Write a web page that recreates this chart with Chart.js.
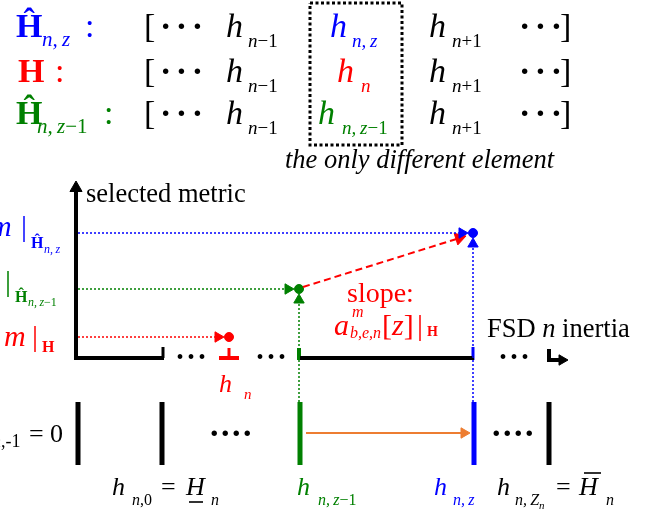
<!DOCTYPE html>
<html>
<head>
<meta charset="utf-8">
<script src="https://cdn.jsdelivr.net/npm/chart.js@4.4.1/dist/chart.umd.min.js"></script>
<style>
  html, body { margin: 0; padding: 0; background: #fff; }
  #marco { width: 648px; height: 513px; }
</style>
</head>
<body>
<div id="marco"><canvas id="lienzo"></canvas></div>
<script>
const AZUL = '#0000ff', ROJO = '#ff0000', VERDE = '#008000', NEGRO = '#000000', NARANJA = '#ed7d31';
const SERIF = '"Liberation Serif", "Times New Roman", serif';

//* datos del diagrama (unidades del lienzo)
const hEje = [229, 299, 473];            // h_n, h_{n,z-1}, h_{n,z}
const metrica = [337, 289, 233];         // m|H, m|Ĥ_{n,z-1}, m|Ĥ_{n,z}
const coloresMetrica = [ROJO, VERDE, AZUL];
const ejeOrigen = [76, 358];
const ejeTope = 190;
const tramosEje = [[74, 164], [219, 239], [300, 474]];
const hRejilla = [78, 162, 300, 474, 549];
const coloresRejilla = [NEGRO, NEGRO, VERDE, AZUL, NEGRO];
const rejillaY = [402, 465];
const flechaNaranja = [306, 470, 433];
const cajaX = [310, 402];
const cajaY = [3, 145];

function linea(puntos, color, ancho, guiones) {
    return {
        data: puntos.map(([x, y]) => ({ x, y })),
        showLine: true,
        borderColor: color,
        borderWidth: ancho,
        borderDash: guiones || [],
        pointRadius: 0,
        pointHoverRadius: 0,
        fill: false,
        tension: 0,
        clip: false
    };
}

//* punta de flecha: triangulo con su vertice en "punta"
function flecha(punta, angulo, r, color) {
    const rad = angulo * Math.PI / 180;
    return {
        data: [{ x: punta[0] - r * Math.cos(rad), y: punta[1] - r * Math.sin(rad) }],
        showLine: false,
        pointStyle: 'triangle',
        pointRadius: r,
        pointHoverRadius: r,
        pointRotation: angulo + 90,
        pointBackgroundColor: color,
        pointBorderColor: color,
        pointBorderWidth: 1,
        clip: false
    };
}

function punto(x, y, r, color) {
    return {
        data: [{ x, y }],
        showLine: false,
        pointStyle: 'circle',
        pointRadius: r,
        pointHoverRadius: r,
        pointBackgroundColor: color,
        pointBorderColor: color,
        clip: false
    };
}

const conjuntos = [];

//* caja punteada
conjuntos.push(linea([[cajaX[0], cajaY[0]], [cajaX[1], cajaY[0]], [cajaX[1], cajaY[1]], [cajaX[0], cajaY[1]], [cajaX[0], cajaY[0]]], NEGRO, 3, [3, 2.5]));

//* lineas punteadas horizontales hacia cada punto
metrica.forEach((m, i) => {
    conjuntos.push(linea([[ejeOrigen[0] + 2, m], [hEje[i] - 11, m]], coloresMetrica[i], 1.5, [2, 2]));
    conjuntos.push(flecha([hEje[i] - 5, m], 0, 6, coloresMetrica[i]));
});
//* lineas punteadas verticales desde la rejilla
[1, 2].forEach(i => {
    conjuntos.push(linea([[hEje[i], rejillaY[0]], [hEje[i], metrica[i] + 11]], coloresMetrica[i], 1.5, [2, 2]));
    conjuntos.push(flecha([hEje[i], metrica[i] + 5], -90, 6, coloresMetrica[i]));
});

//* ejes
conjuntos.push(linea([[ejeOrigen[0], ejeOrigen[1] + 2], [ejeOrigen[0], ejeTope]], NEGRO, 4));
conjuntos.push(flecha([ejeOrigen[0], ejeTope - 9], -90, 7, NEGRO));
tramosEje.forEach((t, i) => {
    conjuntos.push(linea([[t[0], ejeOrigen[1]], [t[1], ejeOrigen[1]]], i === 1 ? ROJO : NEGRO, 4));
});
conjuntos.push(linea([[163, ejeOrigen[1]], [163, ejeOrigen[1] - 11]], NEGRO, 3));
conjuntos.push(linea([[hEje[0], ejeOrigen[1]], [hEje[0], ejeOrigen[1] - 10]], ROJO, 3));
conjuntos.push(linea([[hEje[1], ejeOrigen[1] + 2], [hEje[1], ejeOrigen[1] - 10]], VERDE, 4));
conjuntos.push(linea([[hEje[2], ejeOrigen[1] + 2], [hEje[2], ejeOrigen[1] - 11]], AZUL, 3));
//* simbolo de continuacion
conjuntos.push(linea([[549, 349], [549, 360], [561, 360]], NEGRO, 4));
conjuntos.push(flecha([568, 360], 0, 6, NEGRO));

//* pendiente
const ini = [hEje[1] + 4, metrica[1] - 2];
const fin = [hEje[2] - 7, metrica[2] + 3];
const angPend = Math.atan2(fin[1] - ini[1], fin[0] - ini[0]) * 180 / Math.PI;
const radPend = angPend * Math.PI / 180;
conjuntos.push(linea([ini, [fin[0] - 7 * Math.cos(radPend), fin[1] - 7 * Math.sin(radPend)]], ROJO, 2, [7, 4]));
conjuntos.push(flecha(fin, angPend, 7, ROJO));

//* puntos de la metrica
metrica.forEach((m, i) => conjuntos.push(punto(hEje[i], m, 4.5, coloresMetrica[i])));

//* rejilla inferior
hRejilla.forEach((h, i) => conjuntos.push(linea([[h, rejillaY[0]], [h, rejillaY[1]]], coloresRejilla[i], 5)));
conjuntos.push(linea([[flechaNaranja[0], flechaNaranja[2]], [flechaNaranja[1] - 6, flechaNaranja[2]]], NARANJA, 2));
conjuntos.push(flecha([flechaNaranja[1], flechaNaranja[2]], 0, 6, NARANJA));

//* textos (con subindices)
const I = 'italic', B = 'bold';
function fila(y, medio) {
    return {
        y, runs: [
            { x: 144, t: '[', s: 34 },
            { x: 160, t: '\u00b7\u00b7\u00b7', s: 34, st: B, sp: 4.5 },
            { x: 226, t: 'h', s: 34, st: I },
            { x: 248, t: 'n', s: 19, st: I, dy: 10 }, { t: '\u22121', s: 19, dy: 10 },
            ...medio,
            { x: 429, t: 'h', s: 34, st: I },
            { x: 452, t: 'n', s: 19, st: I, dy: 10 }, { t: '+1', s: 19, dy: 10 },
            { x: 519, t: '\u00b7\u00b7\u00b7', s: 34, st: B, sp: 4.5 },
            { x: 560, t: ']', s: 34 }
        ]
    };
}

const textos = [
    { y: 37, c: AZUL, runs: [{ x: 16, t: '\u0124', s: 34, st: B }, { x: 42, t: 'n,\u2009z', s: 21, st: I, dy: 9 }, { x: 85, t: ':', s: 34 }] },
    { y: 82, c: ROJO, runs: [{ x: 18, t: 'H', s: 34, st: B }, { x: 55, t: ':', s: 34 }] },
    { y: 124, c: VERDE, runs: [{ x: 16, t: '\u0124', s: 34, st: B }, { x: 37, t: 'n,\u2009z', s: 21, st: I, dy: 9 }, { t: '\u22121', s: 21, dy: 9 }, { x: 104, t: ':', s: 34 }] },
    fila(37, [{ x: 330, t: 'h', s: 34, st: I, c: AZUL }, { x: 352, t: 'n,\u2009z', s: 19, st: I, dy: 10, c: AZUL }]),
    fila(82, [{ x: 337, t: 'h', s: 34, st: I, c: ROJO }, { x: 361, t: 'n', s: 19, st: I, dy: 10, c: ROJO }]),
    fila(124, [{ x: 318, t: 'h', s: 34, st: I, c: VERDE }, { x: 342, t: 'n,\u2009z', s: 19, st: I, dy: 10, c: VERDE }, { t: '\u22121', s: 19, dy: 10, c: VERDE }]),
    { y: 168, runs: [{ x: 285, t: 'the only different element', s: 26.5, st: I }] },

    { y: 202, runs: [{ x: 86, t: 'selected metric', s: 26.5 }] },
    { y: 337, runs: [{ x: 487, t: 'FSD ', s: 26.5 }, { t: 'n', s: 26.5, st: I }, { t: ' inertia', s: 26.5 }] },
    { y: 302, c: ROJO, runs: [{ x: 347, t: 'slope:', s: 28 }] },
    { y: 335, c: ROJO, runs: [
        { x: 334, t: 'a', s: 30, st: I },
        { x: 352, t: 'm', s: 16, st: I, dy: -18 },
        { x: 350, t: 'b,e,n', s: 16, st: I, dy: 3 },
        { x: 382, t: '[', s: 30 }, { t: 'z', s: 30, st: I }, { t: ']', s: 30 },
        { x: 417, t: '|', s: 30 },
        { x: 427, t: 'H', s: 14, st: B, dy: 1 }
    ] },

    { y: 236, c: AZUL, runs: [{ x: -10, t: 'm', s: 30, st: I }, { x: 21, t: '|', s: 30 }, { x: 31, t: '\u0124', s: 16, st: B, dy: 12 }, { x: 44, t: 'n,\u2009z', s: 12, st: I, dy: 17 }] },
    { y: 291, c: VERDE, runs: [{ x: -24, t: 'm', s: 30, st: I }, { x: 5, t: '|', s: 30 }, { x: 15, t: '\u0124', s: 16, st: B, dy: 11 }, { x: 28, t: 'n,\u2009z', s: 12, st: I, dy: 15 }, { t: '\u22121', s: 12, dy: 15 }] },
    { y: 346, c: ROJO, runs: [{ x: 4, t: 'm', s: 30, st: I }, { x: 32, t: '|', s: 30 }, { x: 42, t: 'H', s: 16, st: B, dy: 6 }] },

    { y: 392, c: ROJO, runs: [{ x: 219, t: 'h', s: 26, st: I }, { x: 244, t: 'n', s: 15, st: I, dy: 7 }] },
    { y: 364, runs: [{ x: 176.5, t: '\u2022\u2022\u2022', s: 20, sp: 4 }] },
    { y: 364, runs: [{ x: 256.5, t: '\u2022\u2022\u2022', s: 20, sp: 4 }] },
    { y: 364, runs: [{ x: 499.5, t: '\u2022\u2022\u2022', s: 20, sp: 4 }] },

    { y: 442, runs: [{ x: -26, t: 'h', s: 26, st: I }, { x: -8, t: 'n', s: 18, st: I, dy: 5 }, { t: ',-1', s: 18, dy: 5 }, { x: 29, t: '=', s: 26 }, { x: 50, t: '0', s: 26 }] },
    { y: 436, runs: [{ x: 210, t: '....', s: 34, st: B, sp: 2.5 }] },
    { y: 436, runs: [{ x: 492, t: '....', s: 34, st: B, sp: 2.5 }] },

    { y: 495, runs: [
        { x: 112, t: 'h', s: 26, st: I }, { x: 132, t: 'n', s: 16, st: I, dy: 10 }, { t: ',0', s: 16, dy: 10 },
        { x: 161, t: '=', s: 26 },
        { x: 186, t: 'H', s: 26, st: I, bar: [189, 203, 502] },
        { x: 211, t: 'n', s: 16, st: I, dy: 10 }
    ] },
    { y: 495, c: VERDE, runs: [{ x: 297, t: 'h', s: 26, st: I }, { x: 318, t: 'n,\u2009z', s: 16, st: I, dy: 10 }, { t: '\u22121', s: 16, dy: 10 }] },
    { y: 495, c: AZUL, runs: [{ x: 434, t: 'h', s: 26, st: I }, { x: 453, t: 'n,\u2009z', s: 16, st: I, dy: 10 }] },
    { y: 495, runs: [
        { x: 497, t: 'h', s: 26, st: I }, { x: 515, t: 'n,\u2009Z', s: 16, st: I, dy: 10 }, { t: 'n', s: 11, st: I, dy: 14 },
        { x: 556, t: '=', s: 26 },
        { x: 579, t: 'H', s: 26, st: I, bar: [584, 601, 473] },
        { x: 606, t: 'n', s: 16, st: I, dy: 10 }
    ] }
];

const pluginTextos = {
    id: 'textos',
    afterDatasetsDraw(chart) {
        const { ctx, scales: { x, y } } = chart;
        ctx.save();
        ctx.textBaseline = 'alphabetic';
        ctx.textAlign = 'left';
        textos.forEach(item => {
            let cx = x.getPixelForValue(item.runs[0].x);
            const base = y.getPixelForValue(item.y);
            item.runs.forEach(r => {
                if (r.x !== undefined) cx = x.getPixelForValue(r.x);
                ctx.font = `${r.st || 'normal'} ${r.s}px ${SERIF}`;
                ctx.fillStyle = r.c || item.c || NEGRO;
                const yy = base + (r.dy || 0);
                if (r.sp) {
                    for (const ch of r.t) {
                        ctx.fillText(ch, cx, yy);
                        cx += ctx.measureText(ch).width + r.sp;
                    }
                } else {
                    ctx.fillText(r.t, cx, yy);
                    cx += ctx.measureText(r.t).width;
                }
                if (r.bar) {
                    const x0 = x.getPixelForValue(r.bar[0]), x1 = x.getPixelForValue(r.bar[1]);
                    ctx.fillRect(x0, y.getPixelForValue(r.bar[2]) - 0.8, x1 - x0, 1.6);
                }
            });
        });
        ctx.restore();
    }
};

const lienzo = document.getElementById('lienzo').getContext('2d');
new Chart(lienzo, {
    type: 'scatter',
    data: { datasets: conjuntos },
    options: {
        responsive: true,
        maintainAspectRatio: false,
        animation: false,
        events: [],
        layout: { padding: 0, autoPadding: false },
        plugins: { legend: { display: false }, tooltip: { enabled: false } },
        scales: {
            x: { type: 'linear', min: 0, max: 648, display: false },
            y: { type: 'linear', min: 0, max: 513, reverse: true, display: false }
        }
    },
    plugins: [pluginTextos]
});
</script>
</body>
</html>
